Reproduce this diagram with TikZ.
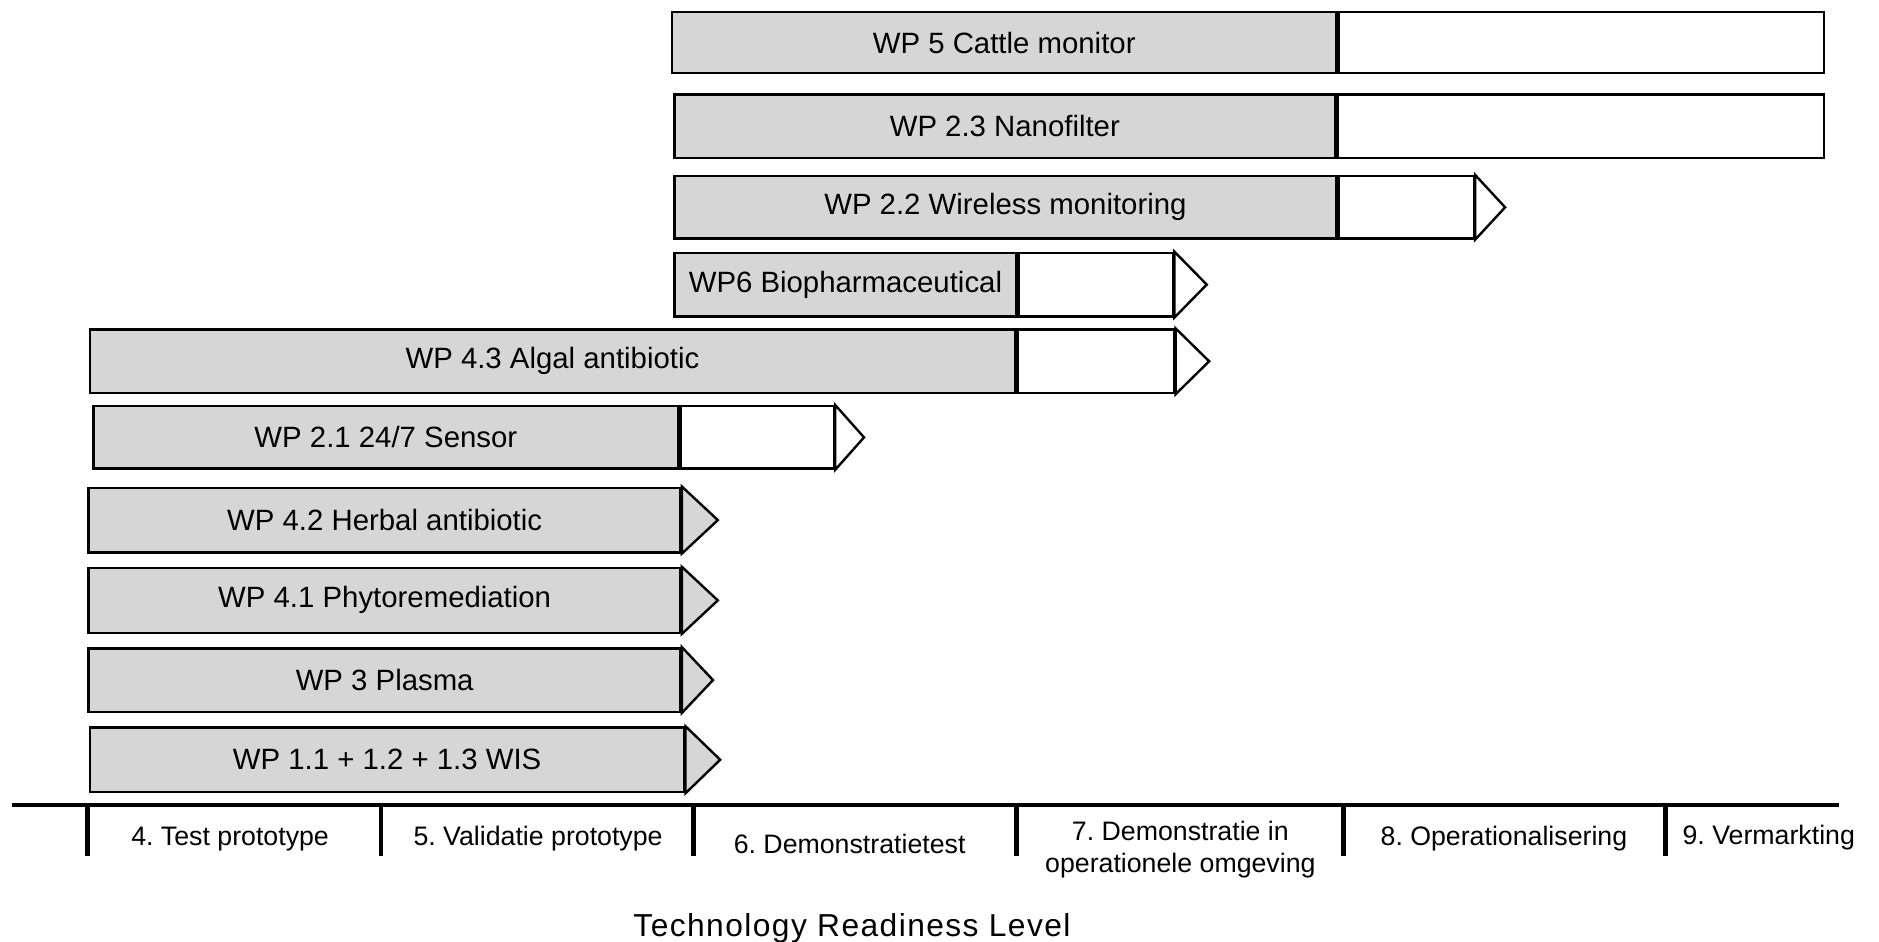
\documentclass[tikz,border=0pt]{standalone}
\usepackage{fontspec}
\setmainfont{Liberation Sans}
\usetikzlibrary{calc}
\definecolor{barfill}{RGB}{214,214,214}
\frenchspacing
\tikzset{
  bar/.style={draw=black, line width=2pt, inner sep=0pt, anchor=north west,
    font=\fontsize{24.5}{29}\selectfont},
  graypart/.style={bar, fill=barfill},
  whitepart/.style={bar, fill=white},
  tipshape/.style={draw=black, line width=2pt, line join=miter},
  tipgray/.style={tipshape, fill=barfill},
  tipwhite/.style={tipshape, fill=white},
  axisline/.style={line width=3.5pt},
  tickline/.style={line width=4pt},
  level/.style={font=\fontsize{22.3}{27}\selectfont, align=center, inner sep=0pt},
  titletext/.style={font=\fontsize{26.5}{30}\selectfont\addfontfeature{LetterSpace=4.5}, inner sep=0pt},
}
\begin{document}
\begin{tikzpicture}[x=1pt,y=-1pt]
\useasboundingbox (0,0) rectangle (1568,786);

% WP 5
\node[graypart, minimum width=554pt, minimum height=51pt] (b1) at (560,9) {WP 5 Cattle monitor};
\node[whitepart, minimum width=405pt, minimum height=51pt] (w1) at (b1.north east) {};
% WP 2.3
\node[graypart, minimum width=551pt, minimum height=53pt] (b2) at (562,78) {WP 2.3 Nanofilter};
\node[whitepart, minimum width=406pt, minimum height=53pt] (w2) at (b2.north east) {};
% WP 2.2
\node[graypart, minimum width=552pt, minimum height=52pt] (b3) at (562,146) {WP 2.2 Wireless monitoring};
\node[whitepart, minimum width=113pt, minimum height=52pt] (w3) at (b3.north east) {};
\draw[tipwhite] (w3.north east) -- ($(w3.east)+(25,0)$) -- (w3.south east) -- cycle;
% WP6
\node[graypart, minimum width=285pt, minimum height=53pt] (b4) at (562,210) {WP6 Biopharmaceutical};
\node[whitepart, minimum width=129pt, minimum height=53pt] (w4) at (b4.north east) {};
\draw[tipwhite] (w4.north east) -- ($(w4.east)+(27,0)$) -- (w4.south east) -- cycle;
% WP 4.3
\node[graypart, minimum width=772pt, minimum height=53pt] (b5) at (74,274) {WP 4.3 Algal antibiotic};
\node[whitepart, minimum width=131pt, minimum height=53pt] (w5) at (b5.north east) {};
\draw[tipwhite] (w5.north east) -- ($(w5.east)+(28,0)$) -- (w5.south east) -- cycle;
% WP 2.1
\node[graypart, minimum width=488pt, minimum height=52pt] (b6) at (77,338) {WP 2.1 24/7 Sensor};
\node[whitepart, minimum width=128pt, minimum height=52pt] (w6) at (b6.north east) {};
\draw[tipwhite] (w6.north east) -- ($(w6.east)+(24,0)$) -- (w6.south east) -- cycle;
% WP 4.2
\node[graypart, minimum width=494pt, minimum height=54pt] (b7) at (73,406) {WP 4.2 Herbal antibiotic};
\draw[tipgray] (b7.north east) -- ($(b7.east)+(30,0)$) -- (b7.south east) -- cycle;
% WP 4.1
\node[graypart, minimum width=494pt, minimum height=54pt] (b8) at (73,473) {WP 4.1 Phytoremediation};
\draw[tipgray] (b8.north east) -- ($(b8.east)+(30,0)$) -- (b8.south east) -- cycle;
% WP 3
\node[graypart, minimum width=494pt, minimum height=53pt] (b9) at (73,540) {WP 3 Plasma};
\draw[tipgray] (b9.north east) -- ($(b9.east)+(26,0)$) -- (b9.south east) -- cycle;
% WP 1
\node[graypart, minimum width=496pt, minimum height=54pt] (b10) at (74,606) {WP 1.1 + 1.2 + 1.3 WIS};
\draw[tipgray] (b10.north east) -- ($(b10.east)+(29,0)$) -- (b10.south east) -- cycle;

% axis
\coordinate (axL) at (10,672);
\coordinate (axR) at (1535,672);
\draw[axisline] (axL) -- (axR);
\foreach \x in {73,318,579,848,1121,1390}
  \draw[tickline] (\x,672) -- (\x,714);

\node[level] (l4) at (192,700) {4. Test prototype};
\node[level] (l5) at (449,700) {5. Validatie prototype};
\node[level] (l6) at (709,704) {6. Demonstratietest};
\node[level] (l7) at (985,709) {7. Demonstratie in\\operationele omgeving};
\node[level] (l8) at (1255,700) {8. Operationalisering};
\node[level] (l9) at (1476,699) {9. Vermarkting};

\node[titletext] (ttl) at (711,775) {Technology Readiness Level};
\end{tikzpicture}
\end{document}
